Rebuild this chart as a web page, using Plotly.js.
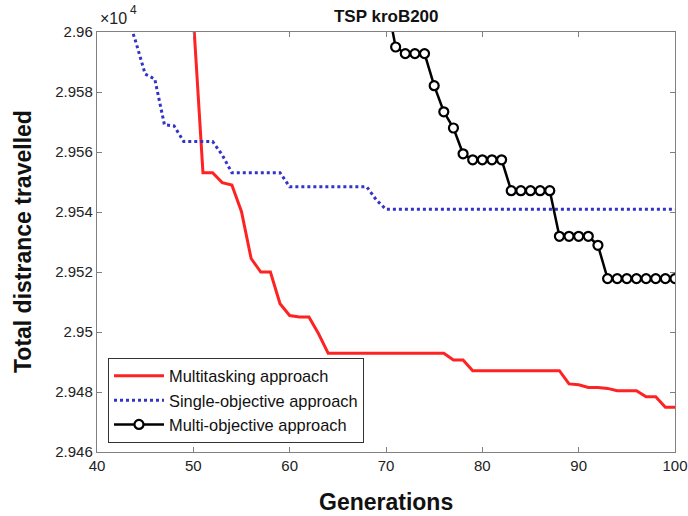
<!DOCTYPE html>
<html>
<head>
<meta charset="utf-8">
<script src="https://cdn.plot.ly/plotly-3.0.1.min.js"></script>
<style>
html,body{margin:0;padding:0;background:#fff;}
#chart{width:688px;height:516px;}
</style>
</head>
<body>
<div id="chart"></div>
<script>
// Values are in units of x10^4
const multitaskGen = [50,51,52,53,54,55,56,57,58,59,60,61,62,63,64,65,66,67,68,69,70,71,72,73,74,75,76,77,78,79,80,81,82,83,84,85,86,87,88,89,90,91,92,93,94,95,96,97,98,99,100];
const multitaskVal = [2.9605,2.95531,2.95531,2.95498,2.9549,2.95401,2.95245,2.952,2.952,2.95094,2.95055,2.9505,2.9505,2.94994,2.94929,2.94929,2.94929,2.94929,2.94929,2.94929,2.94929,2.94929,2.94929,2.94929,2.94929,2.94929,2.94929,2.94907,2.94907,2.94871,2.94871,2.94871,2.94871,2.94871,2.94871,2.94871,2.94871,2.94871,2.94871,2.94827,2.94824,2.94815,2.94815,2.94812,2.94804,2.94804,2.94804,2.94784,2.94784,2.94749,2.94749];

const singleGen = [43,44,45,46,47,48,49,50,51,52,53,54,55,56,57,58,59,60,61,62,63,64,65,66,67,68,69,70,71,72,73,74,75,76,77,78,79,80,81,82,83,84,85,86,87,88,89,90,91,92,93,94,95,96,97,98,99,100];
const singleVal = [2.9607,2.9597,2.9586,2.95843,2.95691,2.95687,2.95635,2.95635,2.95635,2.95635,2.9559,2.95531,2.95531,2.95531,2.95531,2.95531,2.95531,2.95484,2.95484,2.95484,2.95484,2.95484,2.95484,2.95484,2.95484,2.95484,2.9544,2.95409,2.95409,2.95409,2.95409,2.95409,2.95409,2.95409,2.95409,2.95409,2.95409,2.95409,2.95409,2.95409,2.95409,2.95409,2.95409,2.95409,2.95409,2.95409,2.95409,2.95409,2.95409,2.95409,2.95409,2.95409,2.95409,2.95409,2.95409,2.95409,2.95409,2.95409];

const multiObjGen = [70,71,72,73,74,75,76,77,78,79,80,81,82,83,84,85,86,87,88,89,90,91,92,93,94,95,96,97,98,99,100];
const multiObjVal = [2.96117,2.9595,2.95928,2.95928,2.95928,2.95821,2.95734,2.9568,2.95594,2.95574,2.95574,2.95574,2.95574,2.95471,2.95471,2.95471,2.95471,2.95471,2.95319,2.95319,2.95319,2.95319,2.95289,2.95178,2.95178,2.95178,2.95178,2.95178,2.95178,2.95178,2.95178];

const xTickVals = [40,50,60,70,80,90,100];
const yTickVals = [2.946,2.948,2.95,2.952,2.954,2.956,2.958,2.96];
const yTickText = ['2.946','2.948','2.95','2.952','2.954','2.956','2.958','2.96'];

const FONT = 'Liberation Sans, Arial, Helvetica, sans-serif';

const traces = [
  {x: multitaskGen, y: multitaskVal, name: 'Multitasking approach', type: 'scatter', mode: 'lines',
   line: {color: '#ff2222', width: 3}},
  {x: singleGen, y: singleVal, name: 'Single-objective approach', type: 'scatter', mode: 'lines',
   line: {color: '#3333c8', width: 3, dash: 'dot'}},
  {x: multiObjGen, y: multiObjVal, name: 'Multi-objective approach', type: 'scatter', mode: 'lines+markers',
   line: {color: '#000000', width: 2.5},
   marker: {symbol: 'circle', size: 9, color: '#ffffff', line: {color: '#000000', width: 2.2}}}
];

const axisCommon = {
  showline: true, linecolor: '#808080', linewidth: 1.2, mirror: 'ticks',
  ticks: 'inside', ticklen: 5, tickcolor: '#808080', tickwidth: 1,
  showgrid: false, zeroline: false, fixedrange: true,
  ticklabeloverflow: 'allow',
  tickfont: {family: FONT, size: 15, color: '#222'}
};

const layout = {
  width: 688, height: 516,
  margin: {l: 97, r: 13, t: 32, b: 64},
  paper_bgcolor: '#ffffff', plot_bgcolor: '#ffffff',
  showlegend: true,
  title: {text: '<b>TSP kroB200</b>', x: 0.5614, xanchor: 'center', yref: 'container', y: 0.969, yanchor: 'middle',
          font: {family: FONT, size: 17, color: '#111'}},
  xaxis: Object.assign({}, axisCommon, {range: [40, 100], tickvals: xTickVals}),
  yaxis: Object.assign({}, axisCommon, {range: [2.946, 2.96], tickvals: yTickVals, ticktext: yTickText}),
  legend: {x: 0.019, y: 0.2246, xanchor: 'left', yanchor: 'top', itemwidth: 50,
           bgcolor: '#ffffff', bordercolor: '#333333', borderwidth: 1, tracegroupgap: 0,
           font: {family: FONT, size: 16.4, color: '#111'}},
  annotations: [
    {text: '×10', xref: 'paper', yref: 'paper', x: 0.002, y: 1, xanchor: 'left', yanchor: 'bottom',
     yshift: 3, showarrow: false, font: {family: FONT, size: 16, color: '#222'}},
    {text: '4', xref: 'paper', yref: 'paper', x: 0.053, y: 1, xanchor: 'left', yanchor: 'bottom',
     yshift: 13, showarrow: false, font: {family: FONT, size: 12, color: '#222'}},
    {text: '<b>Total distrance travelled</b>', xref: 'paper', yref: 'paper', x: -0.128, y: 0.5,
     xanchor: 'center', yanchor: 'middle', textangle: -90, showarrow: false,
     font: {family: FONT, size: 23, color: '#111'}},
    {text: '<b>Generations</b>', xref: 'paper', yref: 'paper', x: 0.5, y: -0.12,
     xanchor: 'center', yanchor: 'middle', showarrow: false,
     font: {family: FONT, size: 23, color: '#111'}}
  ],
  hovermode: false
};

Plotly.newPlot('chart', traces, layout, {displayModeBar: false, staticPlot: true});
</script>
</body>
</html>
